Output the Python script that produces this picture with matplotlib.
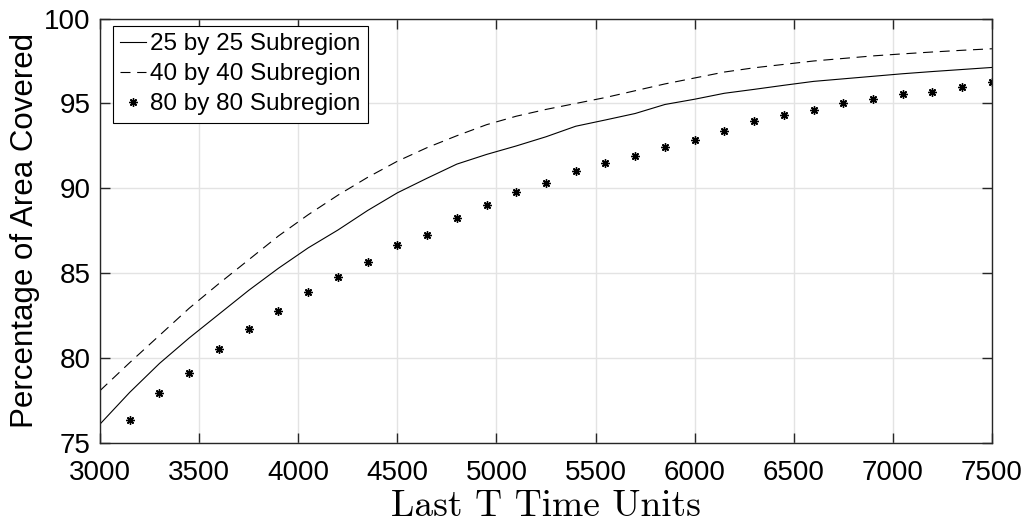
import numpy as np
import matplotlib.pyplot as plt

# Значения
t_lines = [3000, 3150, 3300, 3450, 3600, 3750, 3900, 4050, 4200, 4350, 4500,
           4650, 4800, 4950, 5100, 5250, 5400, 5550, 5700, 5850, 6000,
           6150, 6300, 6450, 6600, 6750, 6900, 7050, 7200, 7350, 7500]

cov_25 = [76.13, 78.0, 79.7, 81.2, 82.6, 84.0, 85.3, 86.5, 87.55, 88.7, 89.74,
          90.6, 91.43, 92.0, 92.5, 93.04, 93.66, 94.03, 94.41, 94.94, 95.25,
          95.6, 95.83, 96.07, 96.3, 96.45, 96.6, 96.75, 96.88, 97.0, 97.12]

cov_40 = [78.1, 79.75, 81.35, 82.95, 84.4, 85.8, 87.2, 88.45, 89.6, 90.65, 91.6,
          92.4, 93.1, 93.75, 94.25, 94.65, 95.0, 95.35, 95.75, 96.15, 96.5,
          96.85, 97.1, 97.3, 97.5, 97.65, 97.8, 97.92, 98.03, 98.13, 98.22]

t_stars = t_lines[1:]
cov_80 = [76.37, 77.94, 79.15, 80.53, 81.72, 82.78, 83.9, 84.8, 85.65, 86.66,
          87.27, 88.24, 89.04, 89.78, 90.33, 91.0, 91.49, 91.9, 92.43, 92.86,
          93.39, 93.96, 94.35, 94.59, 95.0, 95.27, 95.53, 95.7, 95.99, 96.27]

labels = ['25 by 25 Subregion', '40 by 40 Subregion', '80 by 80 Subregion']

plt.rcParams['font.family'] = ['Liberation Sans', 'DejaVu Sans']

fig = plt.figure(figsize=(10.29, 5.23), dpi=100)
ax = fig.add_axes([0.0972, 0.1524, 0.8668, 0.8122])

ax.plot(t_lines, cov_25, '-', color='black', linewidth=0.8, label=labels[0])
ax.plot(t_lines, cov_40, '--', color='black', linewidth=0.8, dashes=(9, 6), label=labels[1])
ax.plot(t_stars, cov_80, linestyle='none', marker=(8, 2, 0), markersize=6,
        markeredgewidth=1.0, color='black', label=labels[2])

ax.set_xlim(3000, 7500)
ax.set_ylim(75, 100)
ax.set_xticks(np.arange(3000, 7501, 500))
ax.set_yticks(np.arange(75, 101, 5))

ax.grid(True, color='#e3e3e3', linewidth=1.0)
ax.set_axisbelow(True)
for s in ax.spines.values():
    s.set_color('#262626')
    s.set_linewidth(1.0)
ax.tick_params(direction='in', length=7, width=1.0, color='#262626',
               top=True, right=True, labelsize=20)
ax.tick_params(axis='x', pad=12)
ax.tick_params(axis='y', pad=7)

ax.set_ylabel('Percentage of Area Covered', fontsize=22.5, labelpad=3)
ax.set_xlabel('Last T Time Units', fontsize=27, family='cmr10', labelpad=3)

leg = ax.legend(loc='upper left', bbox_to_anchor=(0.0146, 0.9823),
                borderaxespad=0, fontsize=17.5, frameon=True, fancybox=False,
                edgecolor='black', framealpha=1, handlelength=1.07,
                handletextpad=0.16, labelspacing=0.33, borderpad=0.3)
leg.get_frame().set_linewidth(0.8)

fig.savefig('out.png', dpi=100)
